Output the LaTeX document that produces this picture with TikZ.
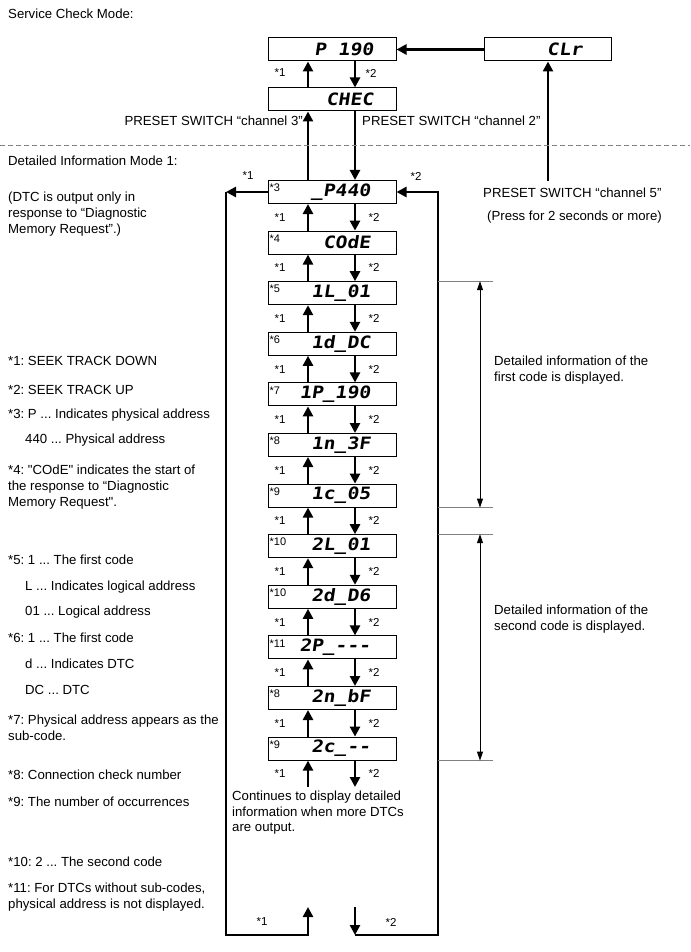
\documentclass[tikz,border=0pt]{standalone}
\usepackage{fontspec}
\setmainfont{Liberation Sans}[Ligatures=TeXOff]
\newfontfamily\segfont[FakeStretch=1.15,FakeSlant=0.15]{DejaVu Sans Mono Bold}
\usetikzlibrary{arrows.meta}
\frenchspacing
\tikzset{
  disp/.style={draw, line width=1pt, fill=white, minimum width=128pt, minimum height=23pt, inner sep=0pt},
  seg/.style={font=\segfont\fontsize{17}{17}\selectfont, anchor=east, inner sep=0pt},
  tag/.style={font=\fontsize{11}{11}\selectfont, anchor=west, inner sep=0pt},
  star/.style={font=\fontsize{11.5}{11.5}\selectfont, inner sep=0pt},
  txt/.style={font=\fontsize{13.2}{16}\selectfont, anchor=west, inner sep=0pt, align=left},
  arr/.style={line width=2.8pt, line join=miter, -{Triangle[length=10pt,width=10pt]}},
  brk/.style={gray, line width=0.7pt},
  dbl/.style={line width=0.9pt, {Triangle[length=9pt,width=6pt]}-{Triangle[length=9pt,width=6pt]}},
  sep/.style={gray, line width=1pt, dash pattern=on 5pt off 3pt}
}
\begin{document}
\begin{tikzpicture}[x=1pt,y=-1pt]
\path[use as bounding box] (0,0) rectangle (690,952);
% helper coordinates
\coordinate (U) at (308,0);
\coordinate (D) at (355,0);
\coordinate (LX) at (438,0);
\coordinate (RX) at (493,0);
\coordinate (AX) at (480,0);
% top boxes
\node[disp] (p190) at (332,49.5) {};
\node[seg] at ([xshift=-23pt]p190.east) {P 190};
\node[disp] (chec) at (332,99.5) {};
\node[seg] at ([xshift=-23pt]chec.east) {CHEC};
\node[disp, minimum width=127pt] (clr) at (547.5,49.5) {};
\node[seg] at ([xshift=-29pt]clr.east) {CLr};
% chain boxes
\foreach \n/\tg/\tx [count=\k] in {
  c1/*3/{\_P440}, c2/*4/{COdE}, c3/*5/{1L\_01}, c4/*6/{1d\_DC},
  c5/*7/{1P\_190}, c6/*8/{1n\_3F}, c7/*9/{1c\_05}, c8/*10/{2L\_01},
  c9/*10/{2d\_D6}, c10/*11/{2P\_-{}-{}-}, c11/*8/{2n\_bF}, c12/*9/{2c\_-{}-}}{
  \pgfmathsetmacro\yy{192+50.6*(\k-1)}
  \node[disp] (\n) at (332,\yy) {};
  \node[seg] at ([xshift=-26pt]\n.east) {\tx};
  \node[tag] at ([xshift=2pt,yshift=-8pt]\n.north west) {\tg};
}
% top arrows
\draw[arr] (clr.west) -- (p190.east);
\coordinate (c5s) at (548,181);
\draw[arr] (c5s) -- (clr.south -| c5s);
\draw[arr] (chec.north -| U) -- (p190.south -| U);
\draw[arr] (p190.south -| D) -- (chec.north -| D);
\draw[arr] (c1.north -| U) -- (chec.south -| U);
\draw[arr] (chec.south -| D) -- (c1.north -| D);
\node[star] at (280,73) {*1};
\node[star] at (371,73) {*2};
% chain arrows
\foreach \a/\b in {c1/c2,c2/c3,c3/c4,c4/c5,c5/c6,c6/c7,c7/c8,c8/c9,c9/c10,c10/c11,c11/c12}{
  \draw[arr] (\b.north -| U) -- (\a.south -| U);
  \draw[arr] (\a.south -| D) -- (\b.north -| D);
}
\foreach \k in {1,...,12}{
  \pgfmathsetmacro\yy{192+50.6*(\k-1)+25.3}
  \node[star] at (280,\yy) {*1};
  \node[star] at (374,\yy) {*2};
}
\coordinate (e1) at (308,787);
\coordinate (e2) at (355,787);
\draw[arr] (e1) -- (c12.south -| U);
\draw[arr] (c12.south -| D) -- (e2);
% loops
\coordinate (ll) at (226,192);
\coordinate (lb) at (308,935);
\coordinate (lt) at (308,907);
\coordinate (rt) at (355,907);
\coordinate (rb) at (355,935);
\coordinate (rc) at (438,935);
\coordinate (ru) at (438,192);
\draw[arr] (c1.west) -- (ll);
\draw[arr] (ll) |- (lb) -- (lt);
\draw[arr] (rt) -- (rb);
\draw[arr] (rb) -- (rc) -- (ru) -- (c1.east);
\node[star] at (248,176) {*1};
\node[star] at (416,176) {*2};
\node[star] at (262,922) {*1};
\node[star] at (391,922) {*2};
% brackets
\draw[brk] (c3.north -| LX) -- (c3.north -| RX);
\draw[brk] (c7.south -| LX) -- (c7.south -| RX);
\draw[brk] (c8.north -| LX) -- (c8.north -| RX);
\draw[brk] (c12.south -| LX) -- (c12.south -| RX);
\draw[dbl] (c3.north -| AX) -- (c7.south -| AX);
\draw[dbl] (c8.north -| AX) -- (c12.south -| AX);
\node[txt] (info1) at (494,370) {Detailed information of the\\first code is displayed.};
\node[txt] (info2) at (494,619) {Detailed information of the\\second code is displayed.};
% separator
\coordinate (s1) at (0,146);
\coordinate (s2) at (690,146);
\draw[sep] (s1) -- (s2);
% texts
\node[txt, anchor=east] (ch3) at (303,121) {PRESET SWITCH “channel 3”};
\node[txt] (ch2) at (362,121) {PRESET SWITCH “channel 2”};
\node[txt] (ch5) at (483,193) {PRESET SWITCH “channel 5”};
\node[txt] (press) at (487,217) {(Press for 2 seconds or more)};
\node[txt, font=\fontsize{13.2}{15.5}\selectfont] (cont) at (232,813) {Continues to display detailed\\information when more DTCs\\are output.};
\node[txt] at (8,14) {Service Check Mode:};
\node[txt] at (8,161) {Detailed Information Mode 1:};
\node[txt] at (8,214) {(DTC is output only in\\response to “Diagnostic\\Memory Request”.)};
\node[txt] at (8,361) {*1: SEEK TRACK DOWN};
\node[txt] at (8,390) {*2: SEEK TRACK UP};
\node[txt] at (8,415) {*3: P ... Indicates physical address};
\node[txt] at (25,440) {440 ... Physical address};
\node[txt] at (8,487) {*4: "COdE" indicates the start of\\the response to “Diagnostic\\Memory Request".};
\node[txt] at (8,560) {*5: 1 ... The first code};
\node[txt] at (25,587) {L ... Indicates logical address};
\node[txt] at (25,612) {01 ... Logical address};
\node[txt] at (8,638) {*6: 1 ... The first code};
\node[txt] at (25,664) {d ... Indicates DTC};
\node[txt] at (25,690) {DC ... DTC};
\node[txt] at (8,727.5) {*7: Physical address appears as the\\sub-code.};
\node[txt] at (8,775) {*8: Connection check number};
\node[txt] at (8,802) {*9: The number of occurrences};
\node[txt] at (8,862) {*10: 2 ... The second code};
\node[txt] at (8,897) {*11: For DTCs without sub-codes,\\physical address is not displayed.};
\end{tikzpicture}
\end{document}
